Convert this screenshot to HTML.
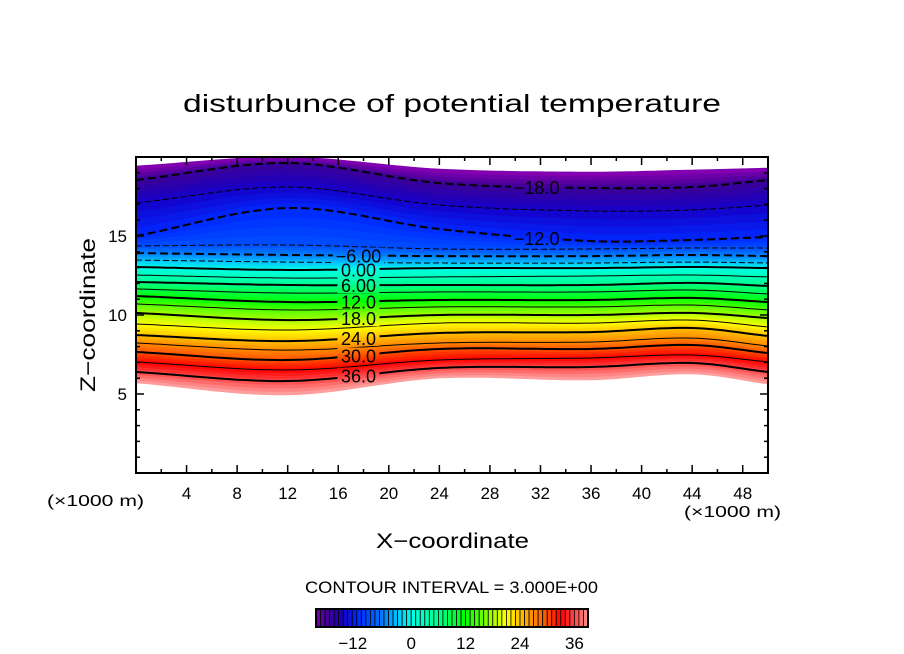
<!DOCTYPE html>
<html><head><meta charset="utf-8"><style>
html,body{margin:0;padding:0;background:#fff;}
svg{display:block;font-family:"Liberation Sans",sans-serif;}
</style></head><body>
<svg id="chart" width="904" height="654" viewBox="0 0 904 654">
<text x="183" y="112" font-size="25" textLength="538" lengthAdjust="spacingAndGlyphs">disturbunce of potential temperature</text>
<g id="plot"></g>
<g id="axes"></g>
<text x="376" y="548" font-size="21" textLength="153" lengthAdjust="spacingAndGlyphs">X−coordinate</text>
<text transform="translate(95,392) rotate(-90)" font-size="21" textLength="154" lengthAdjust="spacingAndGlyphs">Z−coordinate</text>
<text x="47" y="506" font-size="16" textLength="97" lengthAdjust="spacingAndGlyphs">(×1000 m)</text>
<text x="684" y="517" font-size="16" textLength="97" lengthAdjust="spacingAndGlyphs">(×1000 m)</text>
<text x="305" y="593" font-size="17" textLength="293" lengthAdjust="spacingAndGlyphs">CONTOUR INTERVAL = 3.000E+00</text>
<g id="cbar"></g>
</svg>
<script>
// ---- data ----
const stationsX = [0, 12, 24, 36, 44, 50];
const contourLevels = [36, 33, 30, 27, 24, 21, 18, 15, 12, 9, 6, 3, 0, -3, -6, -9, -12, -15, -18];
const bottomEdgeZ = [5.70, 4.94, 6.01, 5.89, 6.27, 5.63];
const topEdgeZ = [19.43, 20.0, 19.24, 19.05, 19.18, 19.30];
const levelZ_x0  = [6.39,7.03,7.66,8.23,8.73,9.43,10.13,10.70,11.20,11.65,12.09,12.53,13.04,13.48,13.92,14.37,15.00,17.09,18.54];
const levelZ_x12 = [5.82,6.52,7.15,7.78,8.35,9.05,9.68,10.32,10.82,11.39,11.90,12.34,12.85,13.35,13.80,14.43,16.77,18.10,19.62];
const levelZ_x24 = [6.65,7.15,7.85,8.23,8.86,9.49,10.00,10.51,10.95,11.46,11.90,12.41,12.97,13.29,13.73,14.18,15.44,16.96,18.35];
const levelZ_x36 = [6.71,7.28,7.85,8.29,8.92,9.49,10.00,10.51,10.95,11.46,11.90,12.47,12.97,13.29,13.73,14.18,14.68,16.58,18.04];
const levelZ_x44 = [6.96,7.47,8.10,8.54,9.18,9.68,10.13,10.63,11.08,11.58,12.03,12.53,13.04,13.35,13.80,14.24,14.75,16.65,18.10];
const levelZ_x50 = [6.39,7.03,7.59,8.04,8.67,9.24,9.81,10.32,10.82,11.33,11.84,12.41,12.97,13.29,13.73,14.24,14.94,16.96,18.54];
const xTicks = [4, 8, 12, 16, 20, 24, 28, 32, 36, 40, 44, 48];
const yTicks = [5, 10, 15];
const cbarTicks = [-12, 0, 12, 24, 36];
const labelTexts = {36:"36.0",30:"30.0",24:"24.0",18:"18.0",12:"12.0",6:"6.00",0:"0.00","-6":"−6.00","-12":"−12.0","-18":"−18.0"};

const columns = [levelZ_x0, levelZ_x12, levelZ_x24, levelZ_x36, levelZ_x44, levelZ_x50];
const NS = "http://www.w3.org/2000/svg";
const X0=136, X1=768, Y0=157, Y1=473, XMAX=50, ZMAX=20;
const sx = x => X0 + (X1-X0)*x/XMAX;
const sy = z => Y1 - (Y1-Y0)*z/ZMAX;

const stops = [[-22,"#8c00b4"],[-18,"#3c0096"],[-15,"#1400c8"],[-12,"#0028ff"],[-9,"#0050ff"],[-6,"#0080ff"],[-3,"#00c4ff"],[0,"#00ffe6"],[6,"#00ff8c"],[12,"#00ff00"],[18,"#a8ff00"],[21,"#ffff00"],[24,"#ffc000"],[30,"#ff5000"],[33,"#ff0000"],[36,"#ff4848"],[40,"#ffa8a8"]];
function hex(c){return [1,3,5].map(i=>parseInt(c.substr(i,2),16));}
function cmap(v){
  if(v<=stops[0][0]) return stops[0][1];
  for(let i=1;i<stops.length;i++){
    if(v<=stops[i][0]){
      const t=(v-stops[i-1][0])/(stops[i][0]-stops[i-1][0]);
      const a=hex(stops[i-1][1]), b=hex(stops[i][1]);
      return "rgb("+a.map((q,k)=>Math.round(q+(b[k]-q)*t)).join(",")+")";
    }
  }
  return stops[stops.length-1][1];
}
function curveAt(vals, x){
  let i=0; while(i<stationsX.length-2 && x>stationsX[i+1]) i++;
  const x1=stationsX[i], x2=stationsX[i+1], t=(x-x1)/(x2-x1);
  const p1=vals[i], p2=vals[i+1];
  const p0=i>0?vals[i-1]:p1, p3=i+2<vals.length?vals[i+2]:p2;
  const h=x2-x1;
  const m1=i>0?(p2-p0)/(x2-stationsX[i-1])*h:(p2-p1);
  const m2=i+2<vals.length?(p3-p1)/(stationsX[i+2]-x1)*h:(p2-p1);
  const t2=t*t,t3=t2*t;
  return (2*t3-3*t2+1)*p1+(t3-2*t2+t)*m1+(-2*t3+3*t2)*p2+(t3-t2)*m2;
}
const xs=[]; for(let x=0;x<=XMAX+1e-9;x+=0.5) xs.push(x);
function levelVals(k){return columns.map(c=>c[k]);}
const curves=[]; const curveVals=[];
curves.push(xs.map(x=>curveAt(bottomEdgeZ,x))); curveVals.push(40);
contourLevels.forEach((lv,k)=>{curves.push(xs.map(x=>curveAt(levelVals(k),x))); curveVals.push(lv);});
curves.push(xs.map(x=>curveAt(topEdgeZ,x))); curveVals.push(-22);

const plot=document.getElementById("plot");
const SUB=4;
for(let b=0;b<curves.length-1;b++){
  const lo=curves[b], hi=curves[b+1];
  for(let s=0;s<SUB;s++){
    const f0=s/SUB, f1=(s+1)/SUB;
    const zl=lo.map((z,i)=>z+(hi[i]-z)*f0), zh=lo.map((z,i)=>z+(hi[i]-z)*f1);
    let pts=xs.map((x,i)=>sx(x).toFixed(1)+","+sy(Math.min(zl[i],ZMAX)).toFixed(1));
    for(let i=xs.length-1;i>=0;i--) pts.push(sx(xs[i]).toFixed(1)+","+sy(Math.min(zh[i],ZMAX)).toFixed(1));
    const v=curveVals[b]+(curveVals[b+1]-curveVals[b])*(f0+f1)/2;
    const p=document.createElementNS(NS,"polygon");
    p.setAttribute("points",pts.join(" "));
    p.setAttribute("fill",cmap(v));
    p.setAttribute("stroke",cmap(v));
    p.setAttribute("stroke-width","0.6");
    
    
    plot.appendChild(p);
  }
}
const defs=document.createElementNS(NS,"defs");
const mask=document.createElementNS(NS,"mask"); mask.setAttribute("id","lblmask");
const mr=document.createElementNS(NS,"rect"); mr.setAttribute("x",0);mr.setAttribute("y",0);mr.setAttribute("width",904);mr.setAttribute("height",654);mr.setAttribute("fill","#fff");
mask.appendChild(mr); defs.appendChild(mask); plot.appendChild(defs);
const lineG=document.createElementNS(NS,"g"); lineG.setAttribute("mask","url(#lblmask)");
plot.appendChild(lineG);
contourLevels.forEach((lv,k)=>{
  const c=curves[k+1];
  const d="M"+xs.map((x,i)=>sx(x).toFixed(1)+","+sy(c[i]).toFixed(1)).join(" L");
  const p=document.createElementNS(NS,"path");
  p.setAttribute("d",d); p.setAttribute("fill","none"); p.setAttribute("stroke","#000");
  p.setAttribute("stroke-width", lv%6===0?"2":"1");
  if(lv<0) p.setAttribute("stroke-dasharray", lv%6===0?"8,4":"6,3");
  
  
  lineG.appendChild(p);
  const txt=labelTexts[lv];
  if(txt){
    const lx = lv<=-12 ? 31.7 : 17.6;
    const z=curveAt(levelVals(k),lx);
    const cx=sx(lx), cy=sy(z);
    const w=txt.length*9.5;
    const r=document.createElementNS(NS,"rect");
    r.setAttribute("x",cx-w/2-2);r.setAttribute("y",cy-8);r.setAttribute("width",w+4);r.setAttribute("height",16);r.setAttribute("fill","#000");
    mask.appendChild(r);
    const t=document.createElementNS(NS,"text");
    t.setAttribute("x",cx);t.setAttribute("y",cy+7);t.setAttribute("text-anchor","middle");
    t.setAttribute("font-size","18");t.textContent=txt;
    
    
    plot.appendChild(t);
  }
});
const axes=document.getElementById("axes");
function line(x1,y1,x2,y2,w){const l=document.createElementNS(NS,"line");l.setAttribute("x1",x1);l.setAttribute("y1",y1);l.setAttribute("x2",x2);l.setAttribute("y2",y2);l.setAttribute("stroke","#000");l.setAttribute("stroke-width",w||1.5);axes.appendChild(l);return l;}
const fr=document.createElementNS(NS,"rect");
fr.setAttribute("x",X0);fr.setAttribute("y",Y0);fr.setAttribute("width",X1-X0);fr.setAttribute("height",Y1-Y0);fr.setAttribute("fill","none");fr.setAttribute("stroke","#000");fr.setAttribute("stroke-width","2");


axes.appendChild(fr);
for(let x=2;x<XMAX;x+=2){const L=(x%4===0)?8:4;line(sx(x),Y1,sx(x),Y1-L);line(sx(x),Y0,sx(x),Y0+L);}
for(let z=1;z<ZMAX;z++){const L=(z%5===0)?8:4;line(X0,sy(z),X0+L,sy(z));line(X1,sy(z),X1-L,sy(z));}
xTicks.forEach(v=>{const t=document.createElementNS(NS,"text");t.setAttribute("x",sx(v));t.setAttribute("y",499);t.setAttribute("text-anchor","middle");t.setAttribute("font-size","17");t.textContent=v;


axes.appendChild(t);});
yTicks.forEach(v=>{const t=document.createElementNS(NS,"text");t.setAttribute("x",127);t.setAttribute("y",sy(v)+6);t.setAttribute("text-anchor","end");t.setAttribute("font-size","17");t.textContent=v;


axes.appendChild(t);});
const cb=document.getElementById("cbar");
const CB0=316, CB1=588, CBY=609, CBH=18, VMIN=-21, VMAX=39;
const cx=v=>CB0+(CB1-CB0)*(v-VMIN)/(VMAX-VMIN);
for(let v=VMIN;v<VMAX;v++){
  const r=document.createElementNS(NS,"rect");
  r.setAttribute("x",cx(v));r.setAttribute("y",CBY);r.setAttribute("width",cx(v+1)-cx(v));r.setAttribute("height",CBH);
  r.setAttribute("fill",cmap(v+0.5));r.setAttribute("stroke","#000");r.setAttribute("stroke-width","0.8");
  
  
  cb.appendChild(r);
}
const cbf=document.createElementNS(NS,"rect");
cbf.setAttribute("x",CB0);cbf.setAttribute("y",CBY);cbf.setAttribute("width",CB1-CB0);cbf.setAttribute("height",CBH);cbf.setAttribute("fill","none");cbf.setAttribute("stroke","#000");cbf.setAttribute("stroke-width","2");


cb.appendChild(cbf);
cbarTicks.forEach(v=>{const t=document.createElementNS(NS,"text");t.setAttribute("x",cx(v)-(v<0?4:0));t.setAttribute("y",649);t.setAttribute("text-anchor","middle");t.setAttribute("font-size","17");t.textContent=(v<0?"−":"")+Math.abs(v);


cb.appendChild(t);});
</script>
</body></html>
